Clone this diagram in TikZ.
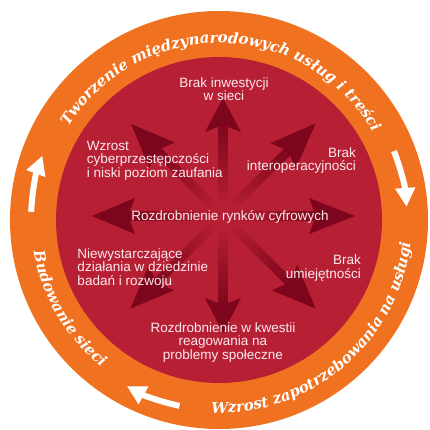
\documentclass[tikz,border=0pt]{standalone}
\usepackage{fontspec}
\setmainfont{Liberation Sans}
\newfontfamily\ringfont{DejaVu Serif}
\usetikzlibrary{decorations.text, arrows.meta}
\definecolor{ringorange}{RGB}{240,114,33}
\definecolor{bgred}{RGB}{183,32,52}
\definecolor{arrowdark}{RGB}{126,6,28}
\definecolor{lighttext}{RGB}{250,234,238}
\newcommand\ringstyle{\ringfont\bfseries\itshape\fontsize{15}{15}\selectfont\color{white}}
% angle, length, head length
\newcommand\bigarrow[3]{%
  \begin{scope}[transform canvas={shift={(4pt,4pt)}, rotate=#1}]
    \shade[left color=bgred, right color=arrowdark] (8,-4.5) rectangle ({#2-#3+8},4.5);
    \fill[arrowdark] (#2,0) -- ({#2-#3},18) -- ({#2-#3+7},0) -- ({#2-#3},-18) -- cycle;
  \end{scope}}
\begin{document}
\begin{tikzpicture}[x=1pt,y=1pt,
  lbl/.style={text=lighttext, font=\fontsize{13.5}{13.5}\selectfont, inner sep=0pt},
  ringarrow/.style={white, line width=6pt, -{Triangle[length=19pt,width=19pt]}},
  ringtext/.style={decorate, decoration={text along path, text align=center, text={|\ringstyle|#1}}}
  ]
\useasboundingbox (-219,-210) rectangle (210,220);
\fill[ringorange] (0,0) circle[radius=209];
\fill[bgred] (0,0) circle[radius=163];

\bigarrow{90}{118}{34}
\bigarrow{270}{117}{35}
\bigarrow{180}{131}{43}
\bigarrow{0}{132}{46}
\bigarrow{135}{130}{44}
\bigarrow{45}{131}{46}
\bigarrow{225}{131}{44}
\bigarrow{315}{131}{44}

\node[lbl, align=center] (t1) at (5,130.75) {Brak inwestycji\\w sieci};
\node[lbl, align=left, anchor=west] (t2) at (-132.3,59.7) {Wzrost\\cyberprzestępczości\\i niski poziom zaufania};
\node[lbl, align=right, anchor=east] (t3) at (137,59.3) {Brak\\interoperacyjności};
\node[lbl, anchor=base] (t4) at (11,-1) {Rozdrobnienie rynków cyfrowych};
\node[lbl, align=left, anchor=west] (t5) at (-141.7,-48.3) {Niewystarczające\\działania w dziedzinie\\badań i rozwoju};
\node[lbl, align=right, anchor=east] (t6) at (142,-47.8) {Brak\\umiejętności};
\node[lbl, align=center] (t7) at (4,-122.2) {Rozdrobnienie w kwestii\\reagowania na\\problemy społeczne};

\draw[ringarrow] (177.5:188) arc[start angle=177.5, end angle=160, radius=188];
\draw[ringarrow] (21.5:188) arc[start angle=21.5, end angle=4, radius=188];
\draw[ringarrow] (258:190) arc[start angle=258, end angle=241, radius=190];

\path[ringtext={Tworzenie międzynarodowych usług i treści}] (160:177) arc[start angle=160, end angle=18, radius=177];
\path[ringtext={Wzrost zapotrzebowania na usługi}] (255:193) arc[start angle=255, end angle=366, radius=193];
\path[ringtext={Budowanie sieci}] (180:188) arc[start angle=180, end angle=241, radius=188];
\end{tikzpicture}
\end{document}
